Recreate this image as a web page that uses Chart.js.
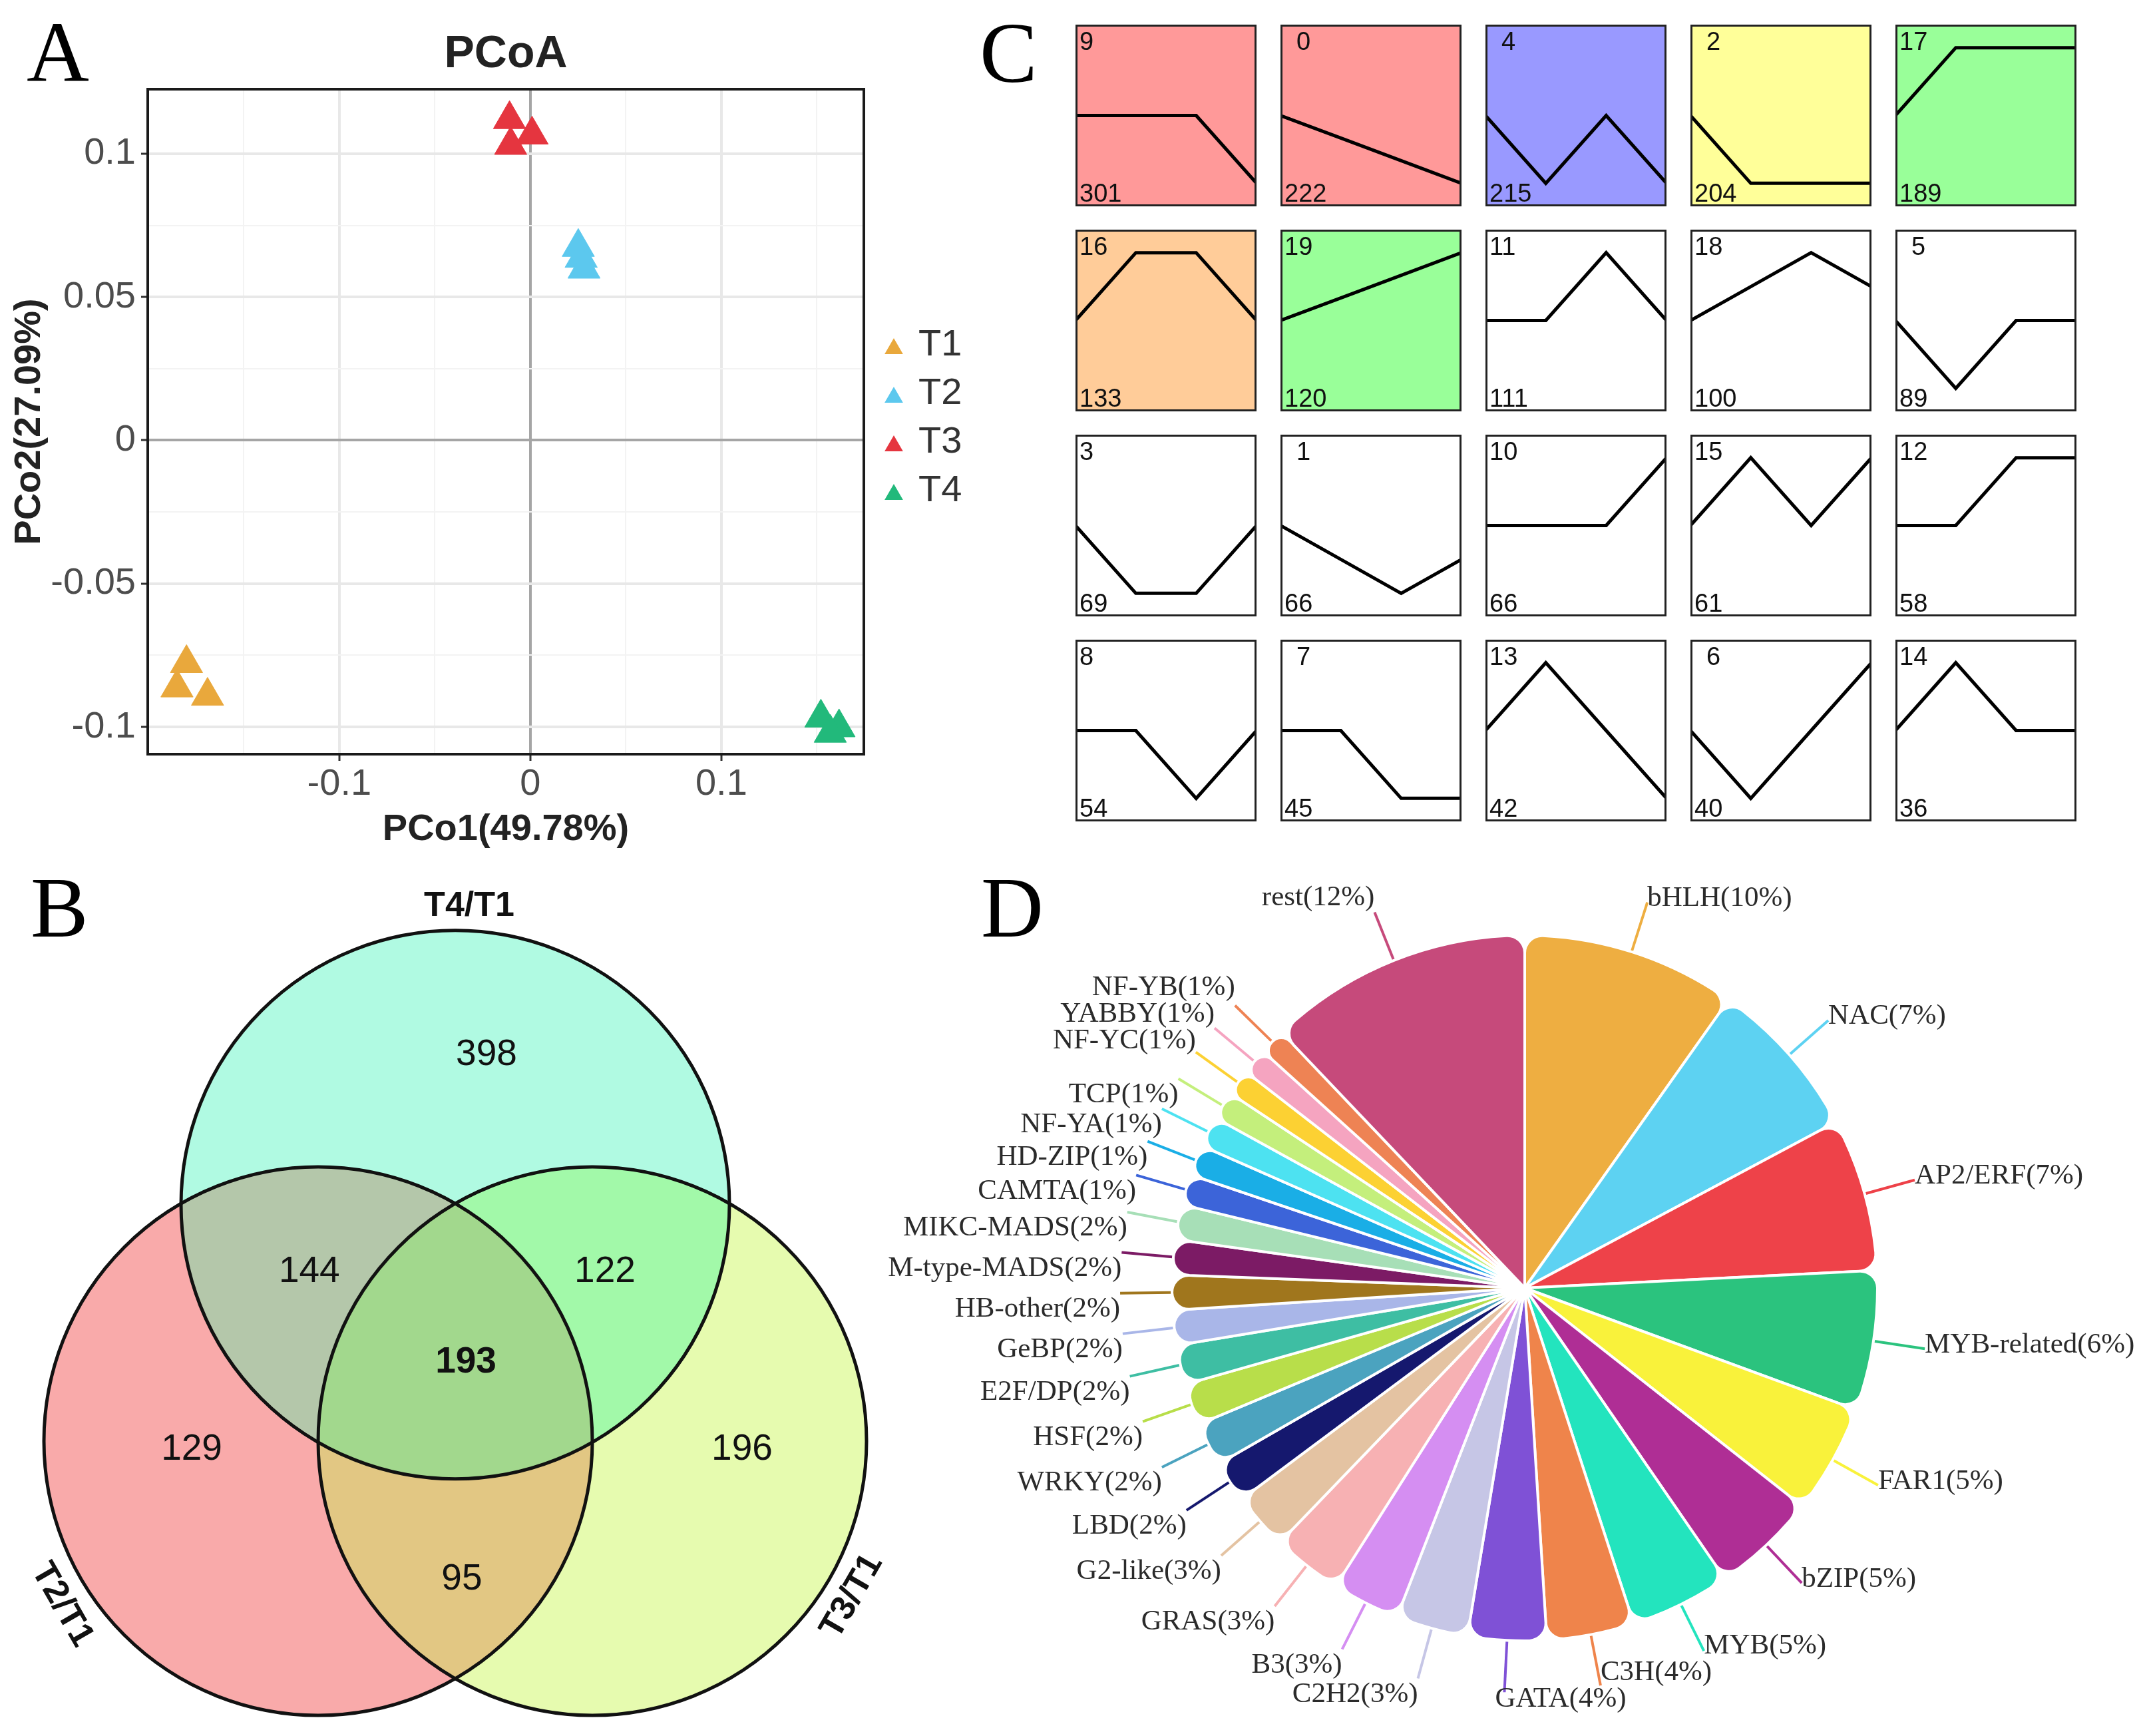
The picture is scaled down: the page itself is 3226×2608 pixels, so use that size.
<!DOCTYPE html>
<html>
<head>
<meta charset="utf-8">
<title>PCoA, DEG Venn, STEM profiles, TF families</title>
<script src="https://cdn.jsdelivr.net/npm/chart.js@4.4.1/dist/chart.umd.min.js"></script>
<style>
  html, body { margin: 0; padding: 0; background: #fff; }
  body { position: relative; width: 3226px; height: 2608px; overflow: hidden; }
  canvas { position: absolute; }
  .tag { position: absolute; font-family: "Liberation Serif", "Times New Roman", serif; font-size: 130px; line-height: 130px; color: #000; }
</style>
</head>
<body>
<div class="tag" style="left:40px; top:13px">A</div>
<div class="tag" style="left:46px; top:1298px">B</div>
<div class="tag" style="left:1472px; top:14px">C</div>
<div class="tag" style="left:1474px; top:1298px">D</div>

<canvas id="pcoa" width="1480" height="1280" style="left:0; top:0"></canvas>
<canvas id="venn" width="1340" height="1328" style="left:0; top:1280px"></canvas>
<canvas id="tf" width="1986" height="1328" style="left:1240px; top:1280px"></canvas>

<script>
Chart.defaults.font.family = '"Liberation Sans", Arial, sans-serif';
Chart.defaults.animation = false;

// ---------------- A: PCoA ----------------
var pcoaTitle = 'PCoA';
var pcoaGroups = ['T1', 'T2', 'T3', 'T4'];
var pcoaColors = ['#E9A83C', '#5CC8EE', '#E5353F', '#22B97B'];
var pco1 = [
  [-0.180, -0.185, -0.169],
  [0.0251, 0.0266, 0.0281],
  [-0.0109, 0.0009, -0.0103],
  [0.1521, 0.1616, 0.1570]
];
var pco2 = [
  [-0.0778, -0.0863, -0.0892],
  [0.0674, 0.0636, 0.0598],
  [0.1120, 0.1066, 0.1030],
  [-0.0968, -0.1002, -0.1021]
];
var pcoXTicks = [-0.1, 0, 0.1];
var pcoXLabels = ['-0.1', '0', '0.1'];
var pcoXMinor = [-0.15, -0.05, 0.05, 0.15];
var pcoYTicks = [-0.1, -0.05, 0, 0.05, 0.1];
var pcoYLabels = ['-0.1', '-0.05', '0', '0.05', '0.1'];
var pcoYMinor = [-0.075, -0.025, 0.025, 0.075];

var near = function(a, b) { return Math.abs(a - b) < 1e-9; };

function pcoAxis(major, labels, minor, min, max, title, isX) {
    var isMajor = function(v) { return major.some(function(t) { return near(t, v); }); };
    return {
        min: min,
        max: max,
        afterBuildTicks: function(s) {
            s.ticks = major.concat(minor).sort(function(a, b) { return a - b; })
                .map(function(v) { return { value: v }; });
        },
        afterFit: function(s) {
            if (isX) s.height = 147; else s.width = 222;
        },
        ticks: {
            autoSkip: false, maxRotation: 0,
            padding: isX ? 2 : 8,
            color: '#4D4D4D',
            font: { size: 56 },
            callback: function(v) {
                var k = major.findIndex(function(t) { return near(t, v); });
                return k < 0 ? '' : labels[k];
            }
        },
        grid: {
            color: function(c) {
                if (!c.tick) return '#EBEBEB';
                if (near(c.tick.value, 0)) return '#A5A5A5';
                return isMajor(c.tick.value) ? '#E8E8E8' : '#F3F3F3';
            },
            lineWidth: function(c) { return c.tick && isMajor(c.tick.value) ? 4 : 2; },
            tickColor: function(c) { return c.tick && isMajor(c.tick.value) ? '#333333' : 'rgba(0,0,0,0)'; },
            tickLength: 10,
            tickWidth: 3
        },
        border: { display: false },
        title: {
            display: true, text: title, color: '#222',
            font: { size: 56, weight: 'bold' },
            padding: isX ? { top: 0, bottom: 0 } : { top: 11, bottom: 0 }
        }
    };
}

var pcoaDecor = {
    id: 'pcoaDecor',
    afterDatasetsDraw: function(chart) {
        var ctx = chart.ctx, a = chart.chartArea;
        ctx.save();
        ctx.strokeStyle = '#1A1A1A';
        ctx.lineWidth = 4;
        ctx.strokeRect(a.left, a.top, a.right - a.left, a.bottom - a.top);
        ctx.restore();
    },
    afterDraw: function(chart) {
        var ctx = chart.ctx, a = chart.chartArea;
        ctx.save();
        ctx.fillStyle = '#222';
        ctx.font = 'bold 68px "Liberation Sans", Arial, sans-serif';
        ctx.textAlign = 'center';
        ctx.fillText(pcoaTitle, (a.left + a.right) / 2, 101);
        // legend, one row per group
        ctx.font = '56px "Liberation Sans", Arial, sans-serif';
        ctx.textAlign = 'left';
        ctx.textBaseline = 'middle';
        chart.data.datasets.forEach(function(ds, i) {
            var ky = 524 + i * 73, r = 16, kx = 1343;
            ctx.fillStyle = ds.backgroundColor;
            ctx.beginPath();
            ctx.moveTo(kx, ky - r);
            ctx.lineTo(kx + r * 0.866, ky + r / 2);
            ctx.lineTo(kx - r * 0.866, ky + r / 2);
            ctx.closePath();
            ctx.fill();
            ctx.fillStyle = '#333';
            ctx.fillText(ds.label, 1380, 519 + i * 73);
        });
        ctx.restore();
    }
};

new Chart(document.getElementById('pcoa'), {
    type: 'scatter',
    data: {
        datasets: pcoaGroups.map(function(g, i) {
            return {
                label: g,
                data: pco1[i].map(function(x, j) { return { x: x, y: pco2[i][j] }; }),
                pointStyle: 'triangle',
                pointRadius: 28,
                backgroundColor: pcoaColors[i],
                borderColor: pcoaColors[i],
                borderWidth: 1
            };
        })
    },
    options: {
        responsive: false, devicePixelRatio: 1, events: [],
        layout: { padding: { top: 134, right: 182, left: 0, bottom: 0 } },
        plugins: { legend: { display: false }, tooltip: { enabled: false } },
        scales: {
            x: pcoAxis(pcoXTicks, pcoXLabels, pcoXMinor, -0.2003, 0.1746, 'PCo1(49.78%)', true),
            y: pcoAxis(pcoYTicks, pcoYLabels, pcoYMinor, -0.1095, 0.1225, 'PCo2(27.09%)', false)
        }
    },
    plugins: [pcoaDecor]
});

// ---------------- B: Venn ----------------
var vennSets = ['T4/T1', 'T2/T1', 'T3/T1'];
// region membership: T4/T1, T2/T1, T3/T1
var vennRegions = ['100', '010', '001', '110', '101', '011', '111'];
var vennCounts = [398, 129, 196, 144, 122, 95, 193];

// layout of the diagram (unit = circle radius)
var vennCircleX = [0, -0.5, 0.5];
var vennCircleY = [0.862, 0, 0];
var vennRadius = 1;
var vennFill = {
    '100': '#B0FAE2', '010': '#F9AAAA', '001': '#E6FBAF',
    '110': '#B4C7AA', '101': '#A2F9A9', '011': '#E2C783', '111': '#A2D88D'
};
var vennCountAt = {
    '100': [0.114, 1.408], '010': [-0.961, -0.032], '001': [1.046, -0.032],
    '110': [-0.532, 0.617], '101': [0.546, 0.617], '011': [0.024, -0.505], '111': [0.039, 0.286]
};
var vennSetAt = [[0.051, 1.949, 0], [-1.434, -0.597, 60], [1.447, -0.566, -60]];

var vennDraw = {
    id: 'vennDraw',
    afterDatasetsDraw: function(chart) {
        var ctx = chart.ctx;
        var xs = chart.scales.x, ys = chart.scales.y;
        var pts = chart.getDatasetMeta(0).data;
        var rpx = ys.getPixelForValue(0) - ys.getPixelForValue(vennRadius);
        var circle = function(i) {
            ctx.beginPath();
            ctx.arc(pts[i].x, pts[i].y, rpx, 0, Math.PI * 2);
        };
        var key = function(list) {
            return [0, 1, 2].map(function(k) { return list.indexOf(k) >= 0 ? '1' : '0'; }).join('');
        };
        ctx.save();
        [0, 1, 2].forEach(function(i) {
            circle(i);
            ctx.fillStyle = vennFill[key([i])];
            ctx.fill();
        });
        [[0, 1], [0, 2], [1, 2]].forEach(function(p) {
            ctx.save();
            circle(p[0]); ctx.clip();
            circle(p[1]);
            ctx.fillStyle = vennFill[key(p)];
            ctx.fill();
            ctx.restore();
        });
        ctx.save();
        circle(0); ctx.clip();
        circle(1); ctx.clip();
        circle(2);
        ctx.fillStyle = vennFill['111'];
        ctx.fill();
        ctx.restore();

        ctx.strokeStyle = '#111';
        ctx.lineWidth = 5;
        [0, 1, 2].forEach(function(i) { circle(i); ctx.stroke(); });

        ctx.fillStyle = '#111';
        ctx.textAlign = 'center';
        ctx.textBaseline = 'middle';
        vennRegions.forEach(function(reg, i) {
            var at = vennCountAt[reg];
            ctx.font = (reg === '111' ? 'bold ' : '') + '55px "Liberation Sans", Arial, sans-serif';
            ctx.fillText(String(vennCounts[i]), xs.getPixelForValue(at[0]), ys.getPixelForValue(at[1]));
        });
        ctx.font = 'bold 52px "Liberation Sans", Arial, sans-serif';
        vennSets.forEach(function(name, i) {
            var at = vennSetAt[i];
            ctx.save();
            ctx.translate(xs.getPixelForValue(at[0]), ys.getPixelForValue(at[1]));
            ctx.rotate(at[2] * Math.PI / 180);
            ctx.fillText(name, 0, 0);
            ctx.restore();
        });
        ctx.restore();
    }
};

new Chart(document.getElementById('venn'), {
    type: 'scatter',
    data: {
        datasets: [{
            data: vennSets.map(function(s, i) { return { x: vennCircleX[i], y: vennCircleY[i] }; }),
            pointRadius: 0
        }]
    },
    options: {
        responsive: false, devicePixelRatio: 1, events: [],
        layout: { padding: 0 },
        plugins: { legend: { display: false }, tooltip: { enabled: false } },
        scales: {
            x: { display: false, min: -1.6602, max: 1.5922 },
            y: { display: false, min: -1.0752, max: 2.1481 }
        }
    },
    plugins: [vennDraw]
});

// ---------------- C: STEM profiles ----------------
var timePoints = ['T1', 'T2', 'T3', 'T4'];
var profileIds = [9, 0, 4, 2, 17, 16, 19, 11, 18, 5, 3, 1, 10, 15, 12, 8, 7, 13, 6, 14];
var profileGenes = [301, 222, 215, 204, 189, 133, 120, 111, 100, 89, 69, 66, 66, 61, 58, 54, 45, 42, 40, 36];
var profileShape = [
    [0, 0, 0, -1], [0, -1, -2, -3], [0, -1, 0, -1], [0, -1, -1, -1], [0, 1, 1, 1],
    [0, 1, 1, 0], [0, 1, 2, 3], [0, 0, 1, 0], [0, 1, 2, 1], [0, -1, 0, 0],
    [0, -1, -1, 0], [0, -1, -2, -1], [0, 0, 0, 1], [0, 1, 0, 1], [0, 0, 1, 1],
    [0, 0, -1, 0], [0, 0, -1, -1], [0, 1, 0, -1], [0, -1, 0, 1], [0, 1, 0, 0]
];
var profileColors = [
    '#FF9999', '#FF9999', '#9999FF', '#FFFF99', '#99FF99',
    '#FFCC99', '#99FF99', '#FFFFFF', '#FFFFFF', '#FFFFFF',
    '#FFFFFF', '#FFFFFF', '#FFFFFF', '#FFFFFF', '#FFFFFF',
    '#FFFFFF', '#FFFFFF', '#FFFFFF', '#FFFFFF', '#FFFFFF'
];

var stemBox = {
    id: 'stemBox',
    beforeDraw: function(chart, args, o) {
        var ctx = chart.ctx;
        ctx.save();
        ctx.fillStyle = o.fill;
        ctx.fillRect(0, 0, chart.width, chart.height);
        ctx.restore();
    },
    afterDraw: function(chart, args, o) {
        var ctx = chart.ctx;
        ctx.save();
        ctx.strokeStyle = '#222';
        ctx.lineWidth = 3;
        ctx.strokeRect(1.5, 1.5, chart.width - 3, chart.height - 3);
        ctx.fillStyle = '#111';
        ctx.font = '38px "Liberation Sans", Arial, sans-serif';
        ctx.textAlign = 'left';
        ctx.fillText(o.name, 6 + o.indent, 38);
        ctx.fillText(o.genes, 6, 266);
        ctx.restore();
    }
};

profileIds.forEach(function(id, k) {
    var col = k % 5, row = Math.floor(k / 5);
    var cv = document.createElement('canvas');
    cv.width = 272;
    cv.height = 273;
    cv.style.left = (1616 + col * 308) + 'px';
    cv.style.top = (37 + row * 308) + 'px';
    document.body.appendChild(cv);
    var vals = profileShape[k];
    var m = Math.max.apply(null, vals.map(Math.abs));
    new Chart(cv, {
        type: 'line',
        data: {
            labels: timePoints,
            datasets: [{ data: vals, borderColor: '#000', borderWidth: 5, pointRadius: 0, tension: 0, fill: false }]
        },
        options: {
            responsive: false, devicePixelRatio: 1, events: [],
            layout: { padding: 0 },
            plugins: {
                legend: { display: false }, tooltip: { enabled: false },
                stemBox: {
                    fill: profileColors[k],
                    name: String(id),
                    genes: String(profileGenes[k]),
                    indent: (String(id).length === 1 && col > 0) ? 18 : 0
                }
            },
            scales: {
                x: { display: false },
                y: { display: false, min: -1.34 * m, max: 1.34 * m }
            }
        },
        plugins: [stemBox]
    });
});

// ---------------- D: TF families ----------------
var tfFamilies = ['bHLH', 'NAC', 'AP2/ERF', 'MYB-related', 'FAR1', 'bZIP', 'MYB', 'C3H', 'GATA',
    'C2H2', 'B3', 'GRAS', 'G2-like', 'LBD', 'WRKY', 'HSF', 'E2F/DP', 'GeBP', 'HB-other',
    'M-type-MADS', 'MIKC-MADS', 'CAMTA', 'HD-ZIP', 'NF-YA', 'TCP', 'NF-YC', 'YABBY', 'NF-YB', 'rest'];
var tfShare = [9.8, 7.4, 7.0, 6.4, 5.0, 4.8, 4.6, 4.0, 3.6,
    3.3, 3.1, 3.2, 2.6, 1.9, 2.0, 1.9, 1.8, 1.6, 1.6,
    1.6, 1.6, 1.4, 1.4, 1.4, 1.3, 1.2, 1.2, 1.2, 12.1];
var tfColors = ['#EEAE41', '#5DD2F2', '#EE4249', '#2BC37E', '#F9F23B', '#AF2E95', '#23E4BE', '#EF844B', '#7F51D6',
    '#C6C6E6', '#D58EF2', '#F7B1B3', '#E4C3A2', '#15186E', '#4BA3BF', '#B8DE4A', '#3EBEA3', '#A9B6E8', '#A0761D',
    '#7C1B65', '#A7DFB7', '#3C64D9', '#1AAEE6', '#4DE2F1', '#C4EF7C', '#FCD133', '#F5A4C0', '#EE8354', '#C64A7B'];

var tfLabels = {
    id: 'tfLabels',
    afterDatasetsDraw: function(chart) {
        var ctx = chart.ctx;
        var arcs = chart.getDatasetMeta(0).data;
        var vals = chart.data.datasets[0].data;
        var total = vals.reduce(function(s, v) { return s + v; }, 0);
        var items = arcs.map(function(arc, i) {
            var a = (arc.startAngle + arc.endAngle) / 2;
            var c = Math.cos(a), s = Math.sin(a);
            var r1 = arc.outerRadius + 78;
            var left = c < -0.1;
            var ey = arc.y + s * r1;
            return {
                i: i, c: c, s: s, left: left,
                x: arc.x + c * r1, ey: ey,
                y: ey + (left ? (s < -0.55 ? -22 : 24) : -6),
                text: chart.data.labels[i] + '(' + Math.round(vals[i] / total * 100) + '%)'
            };
        });
        // keep labels in one column from overlapping
        [true, false].forEach(function(side) {
            var col = items.filter(function(it) { return it.left === side; })
                .sort(function(p, q) { return p.y - q.y; });
            for (var pass = 0; pass < 80; pass++) {
                for (var k = 1; k < col.length; k++) {
                    var gap = col[k].y - col[k - 1].y;
                    if (gap < 40) {
                        var d = (40 - gap) / 2;
                        col[k - 1].y -= d;
                        col[k].y += d;
                    }
                }
            }
        });
        ctx.save();
        ctx.lineWidth = 4;
        ctx.font = '43px "Liberation Serif", "Times New Roman", serif';
        ctx.textBaseline = 'middle';
        items.forEach(function(it) {
            var arc = arcs[it.i];
            var r0 = arc.outerRadius + 2;
            ctx.strokeStyle = tfColors[it.i];
            ctx.beginPath();
            ctx.moveTo(arc.x + it.c * r0, arc.y + it.s * r0);
            ctx.lineTo(it.x, it.ey);
            ctx.stroke();
            ctx.fillStyle = '#2B2B2B';
            ctx.textAlign = it.left ? 'right' : 'left';
            ctx.fillText(it.text, it.left ? it.x : it.x - (it.c < 0 ? 14 : 0), it.y);
        });
        ctx.restore();
    }
};

new Chart(document.getElementById('tf'), {
    type: 'pie',
    data: {
        labels: tfFamilies,
        datasets: [{
            data: tfShare,
            backgroundColor: tfColors,
            borderColor: '#FFFFFF',
            borderWidth: 4,
            borderRadius: 26,
            radius: 530
        }]
    },
    options: {
        responsive: false, devicePixelRatio: 1, events: [],
        layout: { padding: { left: 521, right: 405, top: 125, bottom: 143 } },
        plugins: { legend: { display: false }, tooltip: { enabled: false } }
    },
    plugins: [tfLabels]
});
</script>
</body>
</html>
